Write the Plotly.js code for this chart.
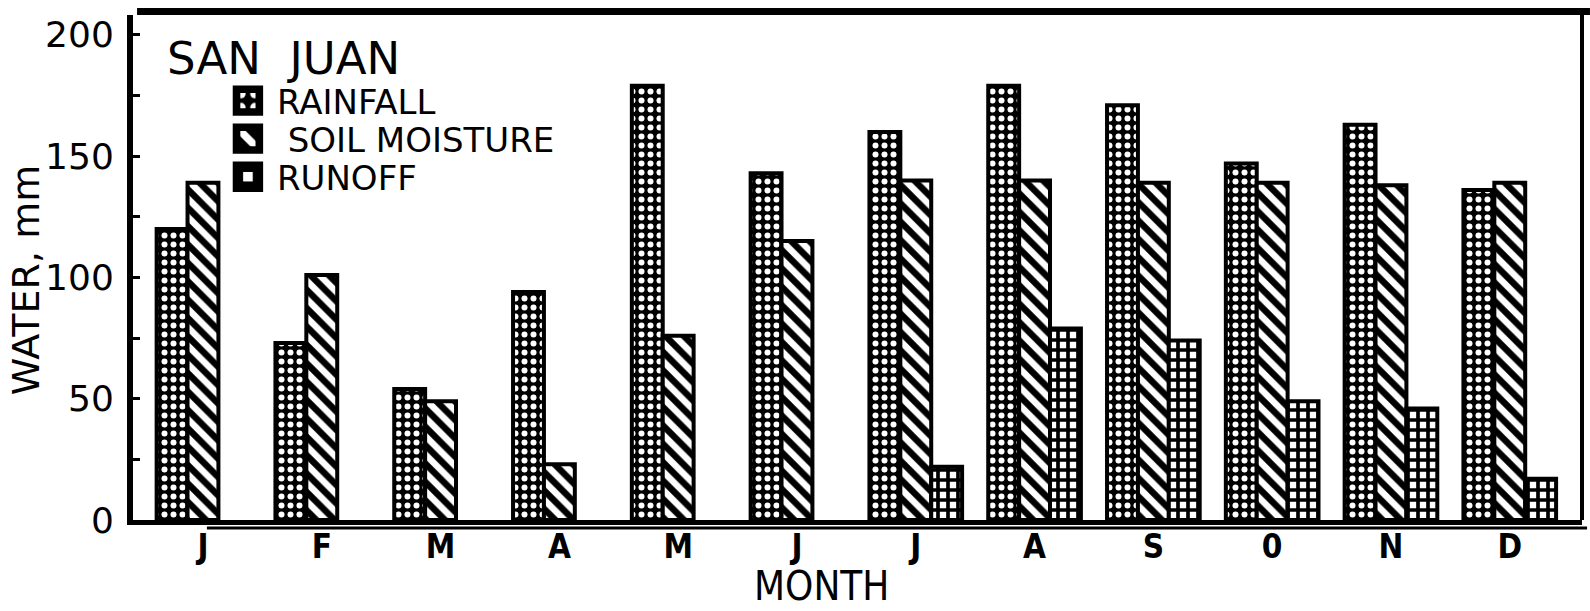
<!DOCTYPE html>
<html>
<head>
<meta charset="utf-8">
<script src="https://cdn.plot.ly/plotly-3.0.1.min.js"></script>
<style>
html,body{margin:0;padding:0;background:#fff;}
#chart{width:1590px;height:611px;}
</style>
</head>
<body>
<div id="chart"></div>
<script>
const monthLabels = ['J','F','M','A','M','J','J','A','S','0','N','D'];
const monthIndex = [0,1,2,3,4,5,6,7,8,9,10,11];
const rainfall = [120, 73, 54, 94, 179, 143, 160, 179, 171, 147, 163, 136];
const soilMoisture = [139, 101, 49, 23, 76, 115, 140, 140, 139, 139, 138, 139];
const runoff = [null, null, null, null, null, null, 22, 79, 74, 49, 46, 17];
const yTickVals = [0,25,50,75,100,125,150,175,200];
const yTickText = ['0','','50','','100','','150','','200'];

const narrow = '"DejaVu Sans Condensed", "Liberation Sans Narrow", Arial, sans-serif';
const round = '"DejaVu Sans", sans-serif';

function barMarker(shape, fg, bg, size, solidity){
  return {color: bg, line: {color: 'black', width: 4},
          pattern: {shape: shape, fgcolor: fg, bgcolor: bg, size: size, solidity: solidity, fillmode: 'replace'}};
}

const traces = [
  {type:'bar', name:'RAINFALL', x: monthIndex, y: rainfall, legend:'legend',
   marker: barMarker('.', 'white', 'black', 9, 0.35)},
  {type:'bar', name:' SOIL MOISTURE', x: monthIndex, y: soilMoisture, legend:'legend2',
   marker: barMarker('\\', 'white', 'black', 13, 0.5)},
  {type:'bar', name:'RUNOFF', x: monthIndex, y: runoff, legend:'legend3',
   marker: barMarker('+', 'black', 'white', 10, 0.6)}
];

function legendAt(y){
  return {x: 0.0593, xanchor:'left', y: y, yanchor:'middle', bgcolor:'rgba(0,0,0,0)',
          borderwidth:0, font:{family: round, size:34, color:'black'}, itemwidth:48,
          itemclick:false, itemdoubleclick:false};
}

const layout = {
  width:1590, height:611,
  margin:{l:133, r:8, t:15, b:91, pad:0},
  paper_bgcolor:'white', plot_bgcolor:'white',
  barmode:'group', bargap:0.22, bargroupgap:0,
  showlegend:true,
  legend: legendAt(0.8297),
  legend2: legendAt(0.7545),
  legend3: legendAt(0.679),
  xaxis:{range:[-0.589, 11.608], tickvals: monthIndex, ticktext: monthLabels,
         showline:true, linecolor:'black', linewidth:5, ticks:'', showgrid:false, zeroline:false,
         tickfont:{family: narrow, size:33, color:'black', weight:'bold'}, ticklabelstandoff:-7, fixedrange:true},
  yaxis:{range:[0, 208.2], tickvals: yTickVals, ticktext: yTickText,
         showline:true, linecolor:'black', linewidth:6, ticks:'inside', ticklen:7, tickwidth:3, tickcolor:'black',
         showgrid:false, zeroline:false, ticklabelstandoff:6,
         tickfont:{family: round, size:36, color:'black'}, fixedrange:true},
  annotations:[
    {text:'SAN&nbsp;&nbsp;JUAN', xref:'paper', yref:'paper', x:0.022, y:0.913, xanchor:'left', yanchor:'middle',
     showarrow:false, font:{family: round, size:45, color:'black'}},
    {text:'MONTH', xref:'paper', yref:'paper', x:0.4755, y:-0.180, xanchor:'center', yanchor:'bottom',
     showarrow:false, font:{family: narrow, size:40, color:'black'}},
    {text:'WATER, mm', xref:'paper', yref:'paper', x:-0.0738, y:0.475, xanchor:'center', yanchor:'middle',
     textangle:-90, showarrow:false, font:{family: round, size:38, color:'black'}}
  ],
  shapes:[
    {type:'line', xref:'paper', yref:'paper', x0:0.0028, x1:1.0055, y0:1.007, y1:1.007, line:{color:'black', width:7}},
    {type:'line', xref:'paper', yref:'paper', x0:1.0, x1:1.0, y0:0, y1:1.0, line:{color:'black', width:4}},
    {type:'line', xref:'paper', yref:'paper', x0:0.051, x1:1.0035, y0:-0.0158, y1:-0.0158, line:{color:'black', width:3}}
  ]
};

Plotly.newPlot('chart', traces, layout, {staticPlot:true, displayModeBar:false}).then(function(gd){
  gd.querySelectorAll('.legendpoints path').forEach(function(p){
    const t = p.getAttribute('transform') || '';
    p.setAttribute('transform', t + ' scale(1.9)');
  });
});
</script>
</body>
</html>
